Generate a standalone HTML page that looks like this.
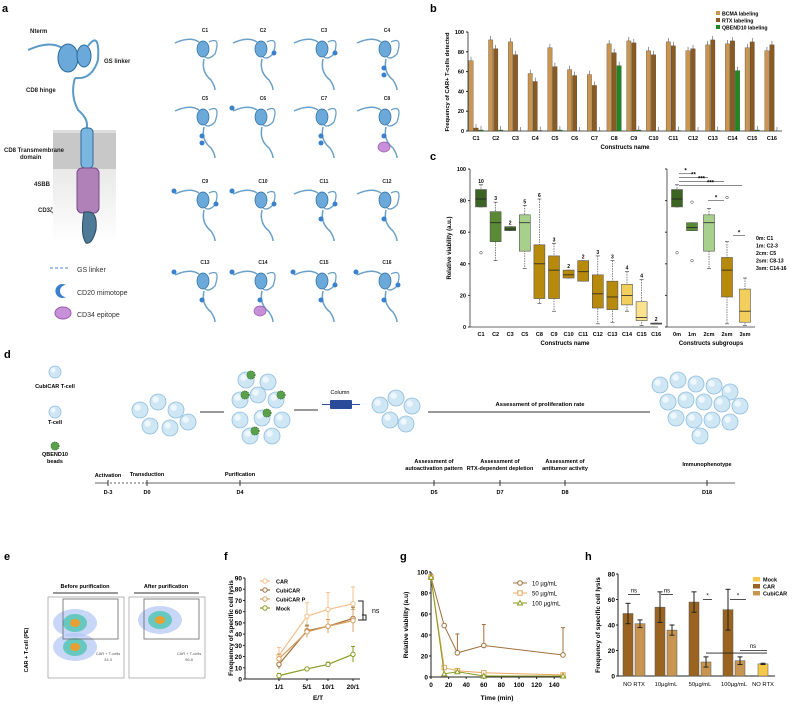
<!DOCTYPE html>
<html><head><meta charset="utf-8">
<style>
html,body{margin:0;padding:0;background:#fff;}
svg{display:block;font-family:"Liberation Sans",sans-serif;}
.t{font-size:6px;fill:#222;}
.b{font-weight:bold;}
</style></head>
<body>
<svg id="fig" width="800" height="708" viewBox="0 0 800 708">
<defs>
<linearGradient id="mem" x1="0" y1="0" x2="0" y2="1"><stop offset="0" stop-color="#ddd"/><stop offset="1" stop-color="#fff"/></linearGradient>
</defs>
<!-- panel letters -->
<g font-weight="bold" font-size="11">
<text x="2" y="12">a</text><text x="430" y="12">b</text><text x="430" y="160">c</text>
<text x="4" y="358">d</text><text x="4" y="560">e</text><text x="224" y="560">f</text><text x="400" y="560">g</text><text x="585" y="560">h</text>
</g>
<!-- panel a main schematic -->
<g id="schem-a">
<rect x="53" y="130" width="63" height="113" fill="url(#mem)"/>
<rect x="53" y="133" width="63" height="36" fill="#c8c8c8"/>
<path d="M28,50 Q50,40 62,48" stroke="#5a9ac8" stroke-width="2" fill="none"/>
<ellipse cx="68" cy="58" rx="10" ry="14" fill="#6aa9da" stroke="#2a6a9a"/>
<ellipse cx="84" cy="56" rx="7" ry="11" fill="#6aa9da" stroke="#2a6a9a"/>
<path d="M88,46 Q100,30 98,60 Q92,80 75,78" stroke="#5a9ac8" stroke-width="2" fill="none"/>
<path d="M75,78 Q70,95 78,110 Q90,120 86,130" stroke="#5a9ac8" stroke-width="2" fill="none"/>
<rect x="81" y="128" width="12" height="40" rx="4" fill="#7ab6e0" stroke="#2a6a9a"/>
<rect x="77" y="168" width="22" height="45" rx="5" fill="#b080b8" stroke="#7a4a8a"/>
<path d="M86,212 Q98,210 96,230 Q92,245 86,243 Q80,235 84,212Z" fill="#4e7a98" stroke="#2a4a60"/>
<text class="t b" x="30" y="33">Nterm</text>
<text class="t b" x="104" y="63">GS linker</text>
<text class="t b" x="26" y="92">CD8 hinge</text>
<text class="t b" x="4" y="152">CD8 Transmembrane</text>
<text class="t b" x="20" y="159">domain</text>
<text class="t b" x="34" y="186">4SBB</text>
<text class="t b" x="38" y="212">CD3ζ</text>
<line x1="50" y1="268" x2="70" y2="268" stroke="#4a8ad0" stroke-dasharray="3,2"/>
<text x="77" y="272" font-size="7" fill="#333">GS linker</text>
<path d="M66,285 A7,7 0 1,0 66,297 A4,4 0 1,1 66,285Z" fill="#3a80cc"/>
<text x="77" y="295" font-size="7" fill="#333">CD20 mimotope</text>
<ellipse cx="63" cy="313" rx="8" ry="6" fill="#c890d8" stroke="#9a5ab0"/>
<text x="77" y="317" font-size="7" fill="#333">CD34 epitope</text>
</g>
<g id="constructs"></g>

<!-- panel b -->
<g id="pb"></g>
<!-- panel c -->
<g id="pc"></g>
<!-- panel d -->
<g id="pd"></g>
<!-- panel e -->
<g id="pe"></g>
<g id="pf"></g>
<g id="pg"></g>
<g id="ph"></g>
</svg>
<script>
// ---- data ----
const bCats=["C1","C2","C3","C4","C5","C6","C7","C8","C9","C10","C11","C12","C13","C14","C15","C16"];
const bBCMA=[71,92,90,58,84,62,57,88,91,81,90,81,87,88,84,81];
const bRTX=[3,83,77,50,65,56,46,79,89,77,86,83,92,91,90,87];
const bQB=[1,1,0,0.5,1,0,0,66,1,0,0.5,0,0.5,61,1,0];
const bTicks=[0,20,40,60,80,100];

const cCats=["C1","C2","C3","C5","C8","C9","C10","C11","C12","C13","C14","C15","C16"];
const cQ1=[76,54,61,48,18,18,31,29,12,11,14,4,2];
const cMed=[81,66,62,66,40,36,33,35,21,19,20,6,2];
const cQ3=[87,73,63.5,71,52,45,36,42,33,29,27,16,2.5];
const cLo=[76,42,61,37,15,10,31,29,2,3,10,1,2];
const cHi=[90,79,63.5,77,81,53,36,42,45,42,35,30,2.5];
const cN=["10","3","2","5","6","3","2","2","3","3","4","4","2"];
const cCol=["#3e6424","#5a8a35","#3e6a26","#a8d08d","#b88a0c","#b88a0c","#b88a0c","#b88a0c","#b88a0c","#b88a0c","#f2cf5c","#fce28e","#fdecb0"];
const sCats=["0m","1m","2cm","2sm","3sm"];
const sQ1=[76,61,48,19,3];
const sMed=[81,63,66,36,10];
const sQ3=[87,66,71,44,24];
const sLo=[76,61,37,2,1];
const sHi=[90,66,75,54,31];
const sCol=["#3e6424","#5a8a35","#a8d08d","#b88a0c","#f2cf5c"];
const cTicks=[0,20,40,60,80,100];

const fCats=["1/1","5/1","10/1","20/1"];
const fCAR=[21,56,62,67];
const fCubi=[13,43,47,54];
const fCubiP=[18,42,47,52];
const fMock=[3,9,13,22];
const fErr=[7,12,15,15];
const fTicks=[0,10,20,30,40,50,60,70,80,90];

const gTime=[0,15,30,60,150];
const g10=[95,49,23,30,21];
const g50=[95,9,6,4,2];
const g100=[95,3,5,1,1];
const gErr10=[3,0,18,20,26];
const gXTicks=[0,20,40,60,80,100,120,140];
const gYTicks=[0,20,40,60,80,100];

const hCats=["NO RTX","10µg/mL","50µg/mL","100µg/mL","NO RTX"];
const hCAR=[49,54,58,52,null];
const hCubi=[41,36,11,12,null];
const hMock=[null,null,null,null,9.5];
const hErrCAR=[8,12,8,16,0];
const hErrCubi=[3,4,4,3,0];
const hTicks=[0,20,40,60,80];

const NS="http://www.w3.org/2000/svg";
function mk(p,tag,at,txt){const e=document.createElementNS(NS,tag);for(const k in at)e.setAttribute(k,at[k]);if(txt!==undefined)e.textContent=txt;p.appendChild(e);return e;}

// ---- construct grid ----
(function(){
 const g=document.getElementById('constructs');
 const colX=[205,263,324,387],rowY=[32,100,183,264];
 for(let r=0;r<4;r++)for(let c=0;c<4;c++){
  const n=r*4+c+1,x=colX[c],y=rowY[r];
  const t=mk(g,'text',{x:x,y:y,'font-size':5,'text-anchor':'middle',fill:'#222','font-weight':'bold'},'C'+n);
  
  
  mk(g,'path',{d:`M${x-30},${y+11} Q${x-15},${y+4} ${x-6},${y+10}`,stroke:'#6aa0c8','stroke-width':1.5,fill:'none'});
  mk(g,'ellipse',{cx:x-2,cy:y+17,rx:6,ry:8,fill:'#6aa9da',stroke:'#2a6a9a','stroke-width':0.7});
  mk(g,'path',{d:`M${x+4},${y+10} Q${x+16},${y+4} ${x+10},${y+22} Q${x+4},${y+28} ${x},${y+25}`,stroke:'#6aa0c8','stroke-width':1.3,fill:'none'});
  mk(g,'path',{d:`M${x-1},${y+27} Q${x-4},${y+40} ${x+6},${y+48} Q${x+10},${y+54} ${x+10},${y+58}`,stroke:'#6aa0c8','stroke-width':1.5,fill:'none'});
  if([2,3,9,10,11,15,16].includes(n)) mk(g,'circle',{cx:x+11,cy:y+21,r:2.5,fill:'#3a80cc'});
  if([4,5,7,8,11,12,13,14,15,16].includes(n)) mk(g,'circle',{cx:x-3,cy:y+36,r:2.5,fill:'#3a80cc'});
  if([4,5,7].includes(n)) mk(g,'circle',{cx:x-3,cy:y+43,r:2.5,fill:'#3a80cc'});
  if([8,14].includes(n)) mk(g,'ellipse',{cx:x-3,cy:y+47,rx:6,ry:5,fill:'#c890d8',stroke:'#9a5ab0','stroke-width':0.7});
  if([6,9,10,13,14,15,16].includes(n)) mk(g,'circle',{cx:x-31,cy:y+8,r:2.5,fill:'#3a80cc'});
 }
})();

// ---- panel b ----
(function(){
 const g=document.getElementById('pb');
 const x0=468,x1=782,y0=131,y1=32;
 const xs=i=>476+i*19.73, ys=v=>y0-(v/100)*(y0-y1);
 mk(g,'line',{x1:x0,y1:y0,x2:x1,y2:y0,stroke:'#222','stroke-width':0.8});
 mk(g,'line',{x1:x0,y1:y0,x2:x0,y2:y1,stroke:'#222','stroke-width':0.8});
 bTicks.forEach(v=>{mk(g,'line',{x1:x0-2,y1:ys(v),x2:x0,y2:ys(v),stroke:'#222'});
  mk(g,'text',{x:x0-4,y:ys(v)+2,'font-size':5.5,'text-anchor':'end','font-weight':'bold'},v);});
 const series=[[bBCMA,'#c9954f',-5],[bRTX,'#8a5a20',0],[bQB,'#1e8a1e',5]];
 bCats.forEach((c,i)=>{
  const t=mk(g,'text',{x:xs(i),y:y0+9,'font-size':5.5,'text-anchor':'middle','font-weight':'bold'},c);
  
  
  series.forEach(([arr,col,off])=>{
   const r=mk(g,'rect',{x:xs(i)+off-2.2,y:ys(arr[i]),width:4.4,height:y0-ys(arr[i]),fill:col,stroke:'#333','stroke-width':0.3});
   
   
   mk(g,'line',{x1:xs(i)+off,y1:ys(arr[i]),x2:xs(i)+off,y2:ys(Math.min(100,arr[i]+4)),stroke:'#333','stroke-width':0.5});
  });
 });
 mk(g,'text',{x:625,y:149,'font-size':6,'text-anchor':'middle','font-weight':'bold'},'Constructs name');
 mk(g,'text',{transform:`translate(449,82) rotate(-90)`,'font-size':5.8,'text-anchor':'middle','font-weight':'bold'},'Frequency of CAR+ T-cells detected');
 [['BCMA labeling','#c9954f'],['RTX labeling','#8a5a20'],['QBEND10 labeling','#1e8a1e']].forEach((l,i)=>{
  const r=mk(g,'rect',{x:716,y:11+i*7,width:4,height:4,fill:l[1]});
  
  
  mk(g,'text',{x:722,y:15.5+i*7,'font-size':5.2,'font-weight':'bold'},l[0]);
 });
})();

// ---- panel c ----
(function(){
 const g=document.getElementById('pc');
 const y0=327,y1=169,ys=v=>y0-(v/100)*(y0-y1);
 const xl=470,xr=667;
 mk(g,'line',{x1:xl,y1:y0,x2:xl,y2:y1,stroke:'#333','stroke-width':0.8});
 mk(g,'line',{x1:xl,y1:y0,x2:658,y2:y0,stroke:'#333','stroke-width':0.8});
 mk(g,'line',{x1:xr,y1:y0,x2:xr,y2:y1,stroke:'#333','stroke-width':0.8});
 mk(g,'line',{x1:xr,y1:y0,x2:755,y2:y0,stroke:'#333','stroke-width':0.8});
 cTicks.forEach(v=>{mk(g,'line',{x1:xl-2,y1:ys(v),x2:xl,y2:ys(v),stroke:'#333'});
  mk(g,'line',{x1:xr-2,y1:ys(v),x2:xr,y2:ys(v),stroke:'#333'});
  mk(g,'text',{x:xl-4,y:ys(v)+2,'font-size':5.5,'text-anchor':'end','font-weight':'bold'},v);});
 function box(x,q1,m,q3,lo,hi,col,w){
  mk(g,'line',{x1:x,y1:ys(hi),x2:x,y2:ys(lo),stroke:'#333','stroke-width':0.6,'stroke-dasharray':'1.5,1'});
  mk(g,'line',{x1:x-2,y1:ys(hi),x2:x+2,y2:ys(hi),stroke:'#333','stroke-width':0.6});
  mk(g,'line',{x1:x-2,y1:ys(lo),x2:x+2,y2:ys(lo),stroke:'#333','stroke-width':0.6});
  const r=mk(g,'rect',{x:x-w/2,y:ys(q3),width:w,height:Math.max(1,ys(q1)-ys(q3)),fill:col,stroke:'#555','stroke-width':0.6});
  
  
  mk(g,'line',{x1:x-w/2,y1:ys(m),x2:x+w/2,y2:ys(m),stroke:'#222','stroke-width':0.8});
 }
 const cx=i=>481+i*14.6;
 cCats.forEach((c,i)=>{
  box(cx(i),cQ1[i],cMed[i],cQ3[i],cLo[i],cHi[i],cCol[i],11);
  mk(g,'text',{x:cx(i),y:ys(cHi[i])-2,'font-size':5,'text-anchor':'middle','font-weight':'bold'},cN[i]);
  mk(g,'text',{x:cx(i),y:y0+9,'font-size':5.5,'text-anchor':'middle','font-weight':'bold'},c);
 });
 mk(g,'circle',{cx:cx(0),cy:ys(47),r:1.3,fill:'none',stroke:'#333','stroke-width':0.5});
 const sx=i=>[677,692,709,727,745][i];
 sCats.forEach((c,i)=>{
  box(sx(i),sQ1[i],sMed[i],sQ3[i],sLo[i],sHi[i],sCol[i],11);
  mk(g,'text',{x:sx(i),y:y0+9,'font-size':5.5,'text-anchor':'middle','font-weight':'bold'},c);
 });
 [[677,47],[692,79],[692,42],[727,82]].forEach(p=>mk(g,'circle',{cx:p[0],cy:ys(p[1]),r:1.3,fill:'none',stroke:'#333','stroke-width':0.5}));
 [[679,692,97,'*'],[679,708,94.5,'**'],[679,724,92,'***'],[679,742,89.5,'***'],[708,724,80,'*'],[733,745,58,'*']].forEach(b=>{
  mk(g,'line',{x1:b[0],y1:ys(b[2]),x2:b[1],y2:ys(b[2]),stroke:'#444','stroke-width':0.6});
  mk(g,'text',{x:(b[0]+b[1])/2,y:ys(b[2])-1,'font-size':6,'text-anchor':'middle','font-weight':'bold'},b[3]);
 });
 ['0m: C1','1m: C2-3','2cm: C5','2sm: C8-13','3sm: C14-16'].forEach((s,i)=>mk(g,'text',{x:756,y:240+i*7.5,'font-size':5.2,'font-weight':'bold'},s));
 mk(g,'text',{x:565,y:345,'font-size':6,'text-anchor':'middle','font-weight':'bold'},'Constructs name');
 mk(g,'text',{x:711,y:345,'font-size':6,'text-anchor':'middle','font-weight':'bold'},'Constructs subgroups');
 mk(g,'text',{transform:'translate(451,248) rotate(-90)','font-size':6,'text-anchor':'middle','font-weight':'bold'},'Relative viability (a.u.)');
})();

// ---- panel d ----
(function(){
 const g=document.getElementById('pd');
 function cell(x,y,r,fill){mk(g,'circle',{cx:x,cy:y,r:r,fill:fill||'#cfe6f5',stroke:'#8fbedd','stroke-width':0.8});
  mk(g,'circle',{cx:x-r*0.3,cy:y-r*0.3,r:r*0.4,fill:'#eef7fd'});}
 function bead(x,y){mk(g,'circle',{cx:x,cy:y,r:4,fill:'#5aa04a',stroke:'#2a6a2a','stroke-dasharray':'1,1','stroke-width':1});}
 cell(55,372,6);cell(55,412,6);bead(55,446);
 [['CubiCAR T-cell',388],['T-cell',424],['QBEND10',456],['beads',463]].forEach(t=>mk(g,'text',{x:55,y:t[1],'font-size':5.5,'text-anchor':'middle','font-weight':'bold'},t[0]));
 [[140,410],[158,402],[176,410],[150,426],[170,428],[188,422]].forEach(p=>cell(p[0],p[1],8));
 mk(g,'line',{x1:200,y1:412,x2:224,y2:412,stroke:'#333'});
 [[240,400],[258,395],[276,400],[240,420],[262,418],[282,420],[250,436],[272,436],[246,380],[268,382]].forEach((p,i)=>{cell(p[0],p[1],8);if(i%2==0)bead(p[0]+5,p[1]-5);});
 mk(g,'line',{x1:294,y1:410,x2:318,y2:410,stroke:'#333'});
 mk(g,'text',{x:340,y:394,'font-size':5.5,'text-anchor':'middle'},'Column');
 mk(g,'rect',{x:330,y:400,width:22,height:9,fill:'#2a4a9a',rx:1});
 mk(g,'line',{x1:322,y1:404.5,x2:360,y2:404.5,stroke:'#2a4a9a'});
 [[380,405],[396,398],[412,406],[390,420],[406,424]].forEach(p=>cell(p[0],p[1],8));
 mk(g,'line',{x1:428,y1:412,x2:650,y2:412,stroke:'#333'});
 mk(g,'text',{x:540,y:406,'font-size':5.8,'text-anchor':'middle','font-weight':'bold'},'Assessment of proliferation rate');
 [[660,385],[678,380],[696,384],[714,386],[730,392],[668,402],[686,400],[704,402],[722,404],[740,406],[676,418],[694,420],[712,420],[730,422],[700,436]].forEach(p=>cell(p[0],p[1],8));
 mk(g,'line',{x1:95,y1:483,x2:735,y2:483,stroke:'#333','stroke-width':0.8});
 mk(g,'line',{x1:108,y1:483,x2:145,y2:483,stroke:'#fff','stroke-width':1.2,'stroke-dasharray':'2,2'});
 const tl=[[108,'D-3','Activation',''],[147,'D0','Transduction',''],[240,'D4','Purification',''],[434,'D5','Assessment of','autoactivation pattern'],[500,'D7','Assessment of','RTX-dependent depletion'],[565,'D8','Assessment of','antitumor activity'],[707,'D18','Immunophenotype','']];
 tl.forEach(d=>{
  mk(g,'line',{x1:d[0],y1:480,x2:d[0],y2:486,stroke:'#333'});
  mk(g,'text',{x:d[0],y:494,'font-size':5.5,'text-anchor':'middle','font-weight':'bold'},d[1]);
  if(d[3]){mk(g,'text',{x:d[0],y:463,'font-size':5.5,'text-anchor':'middle','font-weight':'bold'},d[2]);
   mk(g,'text',{x:d[0],y:470,'font-size':5.5,'text-anchor':'middle','font-weight':'bold'},d[3]);}
  else mk(g,'text',{x:d[0],y:d[0]<130?477:(d[0]>700?466:476),'font-size':5.5,'text-anchor':'middle','font-weight':'bold'},d[2]);
 });
})();

// ---- panel e ----
(function(){
 const g=document.getElementById('pe');
 [[48,'Before purification','34.3',[[75,623],[75,647]]],[129,'After purification','96.8',[[160,620]]]].forEach(p=>{
  const x=p[0];
  mk(g,'text',{x:x+37,y:588,'font-size':5.5,'text-anchor':'middle','font-weight':'bold'},p[1]);
  mk(g,'line',{x1:x+5,y1:593,x2:x+70,y2:593,stroke:'#333'});
  mk(g,'rect',{x:x,y:597,width:76,height:81,fill:'#fff',stroke:'#888','stroke-width':0.6});
  p[3].forEach(c=>{
   mk(g,'ellipse',{cx:c[0],cy:c[1],rx:22,ry:14,fill:'#b0c4f5',opacity:0.7});
   mk(g,'ellipse',{cx:c[0],cy:c[1],rx:12,ry:9,fill:'#4fc4b0',opacity:0.8});
   mk(g,'ellipse',{cx:c[0],cy:c[1],rx:5,ry:4,fill:'#e8a030'});
  });
  mk(g,'rect',{x:x+15,y:599,width:x<100?55:55,height:pMinus(x),fill:'none',stroke:'#666','stroke-width':0.8});
  mk(g,'text',{x:x+60,y:655,'font-size':4,'text-anchor':'middle',fill:'#555'},'CAR + T-cells');
  mk(g,'text',{x:x+60,y:661,'font-size':4,'text-anchor':'middle',fill:'#555'},p[2]);
 });
 function pMinus(){return 40;}
 mk(g,'text',{transform:'translate(28,650) rotate(-90)','font-size':5.5,'text-anchor':'middle','font-weight':'bold'},'CAR + T-cell (PE)');
})();

// ---- panel f ----
(function(){
 const g=document.getElementById('pf');
 const x0=245,y0=679,y1=578,xs=i=>[279,307,328,353][i],ys=v=>y0-v/90*(y0-y1);
 mk(g,'line',{x1:x0,y1:y0,x2:x0,y2:y1,stroke:'#222'});mk(g,'line',{x1:x0,y1:y0,x2:360,y2:y0,stroke:'#222'});
 fTicks.forEach(v=>{mk(g,'line',{x1:x0-2,y1:ys(v),x2:x0,y2:ys(v),stroke:'#222'});mk(g,'text',{x:x0-3,y:ys(v)+2.5,'font-size':6.5,'text-anchor':'end','font-weight':'bold'},v);});
 fCats.forEach((c,i)=>{mk(g,'line',{x1:xs(i),y1:y0,x2:xs(i),y2:y0+2,stroke:'#222'});mk(g,'text',{x:xs(i),y:y0+10,'font-size':6.5,'text-anchor':'middle','font-weight':'bold'},c);});
 mk(g,'text',{x:318,y:700,'font-size':6.5,'text-anchor':'middle','font-weight':'bold'},'E/T');
 mk(g,'text',{transform:'translate(233,628) rotate(-90)','font-size':6.5,'text-anchor':'middle','font-weight':'bold'},'Frequency of specific cell lysis');
 const S=[[fCAR,'#f5c08a','CAR'],[fCubi,'#a0703a','CubiCAR'],[fCubiP,'#d9a060','CubiCAR P'],[fMock,'#8a9a20','Mock']];
 S.forEach((s,k)=>{
  let d='';s[0].forEach((v,i)=>{d+=(i?'L':'M')+xs(i)+','+ys(v);
   const e=k==0?fErr[i]:(k==3?[2,1,2,7][i]:[4,5,6,10][i]);
   mk(g,'line',{x1:xs(i),y1:ys(v-e),x2:xs(i),y2:ys(v+e),stroke:s[1],'stroke-width':1});
   mk(g,'line',{x1:xs(i)-2,y1:ys(v+e),x2:xs(i)+2,y2:ys(v+e),stroke:s[1]});});
  const p=mk(g,'path',{d:d,fill:'none',stroke:s[1],'stroke-width':1.2});
  
  
  s[0].forEach((v,i)=>mk(g,'circle',{cx:xs(i),cy:ys(v),r:2.2,fill:'#fff',stroke:s[1],'stroke-width':1}));
  mk(g,'line',{x1:260,y1:581+k*9,x2:270,y2:581+k*9,stroke:s[1],'stroke-width':1.2});
  mk(g,'circle',{cx:265,cy:581+k*9,r:2.2,fill:'#fff',stroke:s[1]});
  mk(g,'text',{x:276,y:583.5+k*9,'font-size':5.5,'font-weight':'bold'},s[2]);
 });
 mk(g,'path',{d:'M358,601 L363,601 L363,620 L358,620 M362,615 L366,615 L366,620 L362,620',fill:'none',stroke:'#222'});
 mk(g,'text',{x:372,y:613,'font-size':7},'ns');
})();

// ---- panel g ----
(function(){
 const g=document.getElementById('pg');
 const x0=431,x1=563,y0=677,y1=572,xs=v=>x0+v/150*(x1-x0),ys=v=>y0-v/100*(y0-y1);
 mk(g,'line',{x1:x0,y1:y0,x2:x0,y2:y1,stroke:'#222'});mk(g,'line',{x1:x0,y1:y0,x2:566,y2:y0,stroke:'#222'});
 gYTicks.forEach(v=>{mk(g,'line',{x1:x0-2,y1:ys(v),x2:x0,y2:ys(v),stroke:'#222'});mk(g,'text',{x:x0-3,y:ys(v)+2.5,'font-size':6.5,'text-anchor':'end','font-weight':'bold'},v);});
 gXTicks.forEach(v=>{mk(g,'line',{x1:xs(v),y1:y0,x2:xs(v),y2:y0+2,stroke:'#222'});mk(g,'text',{x:xs(v),y:y0+10,'font-size':6.5,'text-anchor':'middle','font-weight':'bold'},v);});
 mk(g,'text',{x:497,y:700,'font-size':6.5,'text-anchor':'middle','font-weight':'bold'},'Time (min)');
 mk(g,'text',{transform:'translate(408,625) rotate(-90)','font-size':6.5,'text-anchor':'middle','font-weight':'bold'},'Relative viability (a.u)');
 const S=[[g10,'#a0703a','10 µg/mL','o'],[g50,'#e8a860','50 µg/mL','s'],[g100,'#8a9a20','100 µg/mL','t']];
 S.forEach((s,k)=>{
  let d='';s[0].forEach((v,i)=>{d+=(i?'L':'M')+xs(gTime[i])+','+ys(v);
   if(k==0&&gErr10[i]){mk(g,'line',{x1:xs(gTime[i]),y1:ys(v),x2:xs(gTime[i]),y2:ys(v+gErr10[i]),stroke:s[1]});mk(g,'line',{x1:xs(gTime[i])-2,y1:ys(v+gErr10[i]),x2:xs(gTime[i])+2,y2:ys(v+gErr10[i]),stroke:s[1]});}});
  const p=mk(g,'path',{d:d,fill:'none',stroke:s[1],'stroke-width':1});
  
  
  const mark=(x,y)=>{if(s[3]=='o')mk(g,'circle',{cx:x,cy:y,r:2.3,fill:'#fff',stroke:s[1]});
   else if(s[3]=='s')mk(g,'rect',{x:x-2.2,y:y-2.2,width:4.4,height:4.4,fill:'#fff',stroke:s[1]});
   else mk(g,'path',{d:`M${x},${y-2.5}L${x+2.5},${y+2}L${x-2.5},${y+2}Z`,fill:'#fff',stroke:s[1]});};
  s[0].forEach((v,i)=>mark(xs(gTime[i]),ys(v)));
  mk(g,'line',{x1:513,y1:583+k*10,x2:527,y2:583+k*10,stroke:s[1]});mark(520,583+k*10);
  mk(g,'text',{x:532,y:585.5+k*10,'font-size':6},s[2]);
 });
})();

// ---- panel h ----
(function(){
 const g=document.getElementById('ph');
 const x0=618,y0=676,y1=574,ys=v=>y0-v/80*(y0-y1),cx=i=>[634,666,700,734,763][i];
 mk(g,'line',{x1:x0,y1:y0,x2:x0,y2:y1,stroke:'#222'});mk(g,'line',{x1:x0,y1:y0,x2:775,y2:y0,stroke:'#222'});
 hTicks.forEach(v=>{mk(g,'line',{x1:x0-2,y1:ys(v),x2:x0,y2:ys(v),stroke:'#222'});mk(g,'text',{x:x0-3,y:ys(v)+2.5,'font-size':6.5,'text-anchor':'end','font-weight':'bold'},v);});
 hCats.forEach((c,i)=>mk(g,'text',{x:cx(i)-(i==4?0:0),y:y0+10,'font-size':5.8,'text-anchor':'middle'},c));
 mk(g,'text',{transform:'translate(600,625) rotate(-90)','font-size':6.5,'text-anchor':'middle','font-weight':'bold'},'Frequency of specific cell lysis');
 function bar(x,v,e,col){if(v==null)return;
  const r=mk(g,'rect',{x:x-5,y:ys(v),width:10,height:y0-ys(v),fill:col,stroke:'#555','stroke-width':0.5});
  
  
  if(e){mk(g,'line',{x1:x,y1:ys(v-e),x2:x,y2:ys(v+e),stroke:'#222'});
   mk(g,'line',{x1:x-2.5,y1:ys(v+e),x2:x+2.5,y2:ys(v+e),stroke:'#222'});mk(g,'line',{x1:x-2.5,y1:ys(v-e),x2:x+2.5,y2:ys(v-e),stroke:'#222'});}}
 hCats.forEach((c,i)=>{bar(cx(i)-6,hCAR[i],hErrCAR[i],'#9a6420');bar(cx(i)+6,hCubi[i],hErrCubi[i],'#c89550');bar(cx(i),hMock[i],0.5,'#f5c84a');});
 [[628,640,64,'ns'],[661,673,64,'ns'],[703,712,60,'*'],[730,746,60,'*']].forEach(b=>{mk(g,'line',{x1:b[0],y1:ys(b[2]),x2:b[1],y2:ys(b[2]),stroke:'#222','stroke-width':0.8});mk(g,'text',{x:(b[0]+b[1])/2,y:ys(b[2])-2,'font-size':6,'text-anchor':'middle'},b[3]);});
 mk(g,'line',{x1:706,y1:ys(18),x2:767,y2:ys(18),stroke:'#222','stroke-width':0.8});
 mk(g,'line',{x1:740,y1:ys(20),x2:767,y2:ys(20),stroke:'#222','stroke-width':0.8});
 mk(g,'text',{x:753,y:ys(22),'font-size':6,'text-anchor':'middle'},'ns');
 [['Mock','#f5c84a'],['CAR','#9a6420'],['CubiCAR','#c89550']].forEach((l,i)=>{mk(g,'rect',{x:753,y:577+i*7,width:7,height:4.5,fill:l[1]});mk(g,'text',{x:763,y:581.5+i*7,'font-size':5.5,'font-weight':'bold'},l[0]);});
})();
</script>
</body></html>
